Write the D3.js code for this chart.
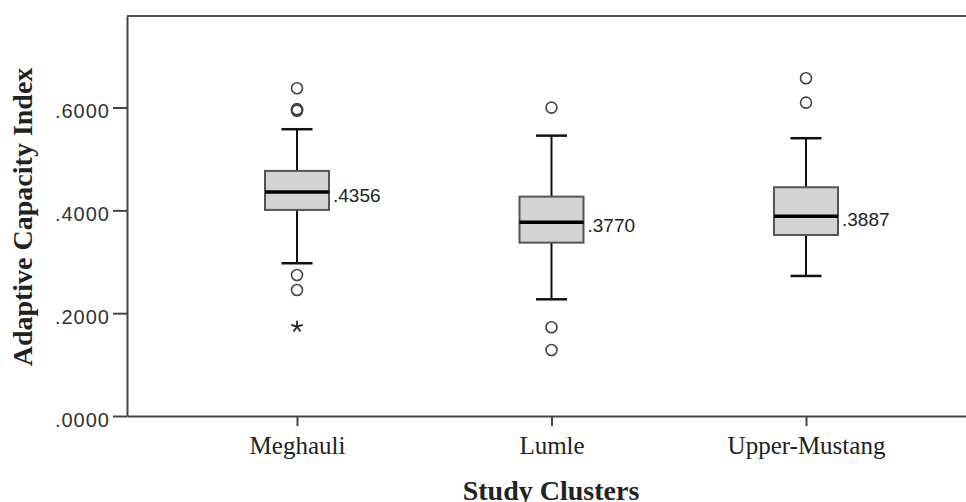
<!DOCTYPE html>
<html>
<head>
<meta charset="utf-8">
<script src="https://cdn.jsdelivr.net/npm/d3@7"></script>
<style>
    body {margin: 0; background: #fff;}
    svg {display: block;}
</style>
</head>
<body>
<div id="chart"></div>
<script>

const categories=["Meghauli", "Lumle", "Upper-Mustang"];
const q1=[0.4008, 0.3372, 0.3521];
const medians=[0.4356, 0.3770, 0.3887];
const q3=[0.4767, 0.4267, 0.4449];
const whiskerLow=[0.2971, 0.2270, 0.2724];
const whiskerHigh=[0.5578, 0.5453, 0.5403];
const outliers=[
    {cat: "Meghauli", value: 0.6375},
    {cat: "Meghauli", value: 0.5937},
    {cat: "Meghauli", value: 0.5953},
    {cat: "Meghauli", value: 0.5968},
    {cat: "Meghauli", value: 0.2743},
    {cat: "Meghauli", value: 0.2451},
    {cat: "Lumle", value: 0.5998},
    {cat: "Lumle", value: 0.1726},
    {cat: "Lumle", value: 0.1284},
    {cat: "Upper-Mustang", value: 0.6570},
    {cat: "Upper-Mustang", value: 0.6095},
];
const extremes=[
    {cat: "Meghauli", value: 0.1737},
];
const yTicks=[0, 0.2, 0.4, 0.6];

const width=966, height=502;
const plotLeft=127, plotTop=16, plotBottom=416, plotRight=976;

const svg=d3.select("#chart").append("svg")
    .attr("width", width)
    .attr("height", height);

const x=d3.scalePoint()
    .domain(categories)
    .range([plotLeft, plotRight])
    .padding(0.668);

const y=d3.scaleLinear()
    .domain([0, 0.778])
    .range([plotBottom, plotTop]);

const fmt=v => d3.format(".4f")(v).replace(/^0/, "");

// frame top line
svg.append("line")
    .attr("x1", plotLeft).attr("x2", plotRight)
    .attr("y1", plotTop).attr("y2", plotTop)
    .style("stroke", "#555")
    .style("stroke-width", 2);

// y axis
const yAxis=svg.append("g")
    .attr("transform", `translate(${plotLeft},0)`)
    .call(d3.axisLeft(y).tickValues(yTicks).tickFormat(fmt).tickSize(14).tickSizeOuter(0));

yAxis.select(".domain").style("stroke", "#444").style("stroke-width", 2);
yAxis.selectAll(".tick line").style("stroke", "#444").style("stroke-width", 2);
yAxis.selectAll(".tick text")
    .attr("x", -17)
    .attr("dy", 10)
    .style("font-family", "'Liberation Sans', Arial, sans-serif")
    .style("font-size", "20px")
    .style("letter-spacing", "1px")
    .style("fill", "#333");

// x axis
const xAxis=svg.append("g")
    .attr("transform", `translate(0,${plotBottom})`)
    .call(d3.axisBottom(x).tickSize(10).tickSizeOuter(0));

xAxis.select(".domain").style("stroke", "#444").style("stroke-width", 2);
xAxis.selectAll(".tick line").style("stroke", "#444").style("stroke-width", 2);
xAxis.selectAll(".tick text")
    .attr("y", 38)
    .attr("dy", 0)
    .style("font-family", "'Liberation Serif', 'Times New Roman', serif")
    .style("font-size", "25px")
    .style("fill", "#222");

// axis titles
svg.append("text")
    .attr("transform", "translate(32,217) rotate(-90)")
    .attr("text-anchor", "middle")
    .style("font-family", "'Liberation Serif', 'Times New Roman', serif")
    .style("font-weight", "bold")
    .style("font-size", "28px")
    .style("fill", "#222")
    .text("Adaptive Capacity Index");

svg.append("text")
    .attr("x", 551)
    .attr("y", 500)
    .attr("text-anchor", "middle")
    .style("font-family", "'Liberation Serif', 'Times New Roman', serif")
    .style("font-weight", "bold")
    .style("font-size", "28px")
    .style("fill", "#222")
    .text("Study Clusters");

// boxes
const boxW=64, capW=31;
const boxes=categories.map((c, i) => ({
    cat: c, q1: q1[i], med: medians[i], q3: q3[i], lo: whiskerLow[i], hi: whiskerHigh[i]
}));

const g=svg.selectAll(".box")
    .data(boxes)
    .enter().append("g")
    .attr("class", "box");

// whisker stems
g.append("line")
    .attr("x1", d => x(d.cat)).attr("x2", d => x(d.cat))
    .attr("y1", d => y(d.hi)).attr("y2", d => y(d.q3))
    .style("stroke", "#111").style("stroke-width", 2);
g.append("line")
    .attr("x1", d => x(d.cat)).attr("x2", d => x(d.cat))
    .attr("y1", d => y(d.q1)).attr("y2", d => y(d.lo))
    .style("stroke", "#111").style("stroke-width", 2);

// caps
g.append("line")
    .attr("x1", d => x(d.cat)-capW/2).attr("x2", d => x(d.cat)+capW/2)
    .attr("y1", d => y(d.hi)).attr("y2", d => y(d.hi))
    .style("stroke", "#111").style("stroke-width", 2.5);
g.append("line")
    .attr("x1", d => x(d.cat)-capW/2).attr("x2", d => x(d.cat)+capW/2)
    .attr("y1", d => y(d.lo)).attr("y2", d => y(d.lo))
    .style("stroke", "#111").style("stroke-width", 2.5);

g.append("rect")
    .attr("x", d => x(d.cat)-boxW/2)
    .attr("y", d => y(d.q3))
    .attr("width", boxW)
    .attr("height", d => y(d.q1)-y(d.q3))
    .style("fill", "#d3d3d3")
    .style("stroke", "#555")
    .style("stroke-width", 2);

g.append("line")
    .attr("x1", d => x(d.cat)-boxW/2).attr("x2", d => x(d.cat)+boxW/2)
    .attr("y1", d => y(d.med)).attr("y2", d => y(d.med))
    .style("stroke", "#000").style("stroke-width", 3.5);

g.append("text")
    .attr("x", d => x(d.cat)+boxW/2+4)
    .attr("y", d => y(d.med)+9.5)
    .style("font-family", "'Liberation Sans', Arial, sans-serif")
    .style("font-size", "19px")
    .style("fill", "#222")
    .text(d => fmt(d.med));

// outliers
svg.selectAll(".outlier")
    .data(outliers)
    .enter().append("circle")
    .attr("class", "outlier")
    .attr("cx", d => x(d.cat))
    .attr("cy", d => y(d.value))
    .attr("r", 5.5)
    .style("fill", "none")
    .style("stroke", "#444")
    .style("stroke-width", 1.6);

// extreme values: five-armed asterisk
const asterisk={
    draw(context, size) {
        const r=Math.sqrt(size)/2;
        for (let k=0; k<5; k++) {
            const a=-Math.PI/2+k*2*Math.PI/5;
            context.moveTo(0, 0);
            context.lineTo(r*Math.cos(a), r*Math.sin(a));
        }
    }
};

svg.selectAll(".extreme")
    .data(extremes)
    .enter().append("path")
    .attr("class", "extreme")
    .attr("transform", d => `translate(${x(d.cat)},${y(d.value)})`)
    .attr("d", d3.symbol(asterisk, 144))
    .style("fill", "none")
    .style("stroke", "#222")
    .style("stroke-width", 1.8);

</script>
</body>
</html>
